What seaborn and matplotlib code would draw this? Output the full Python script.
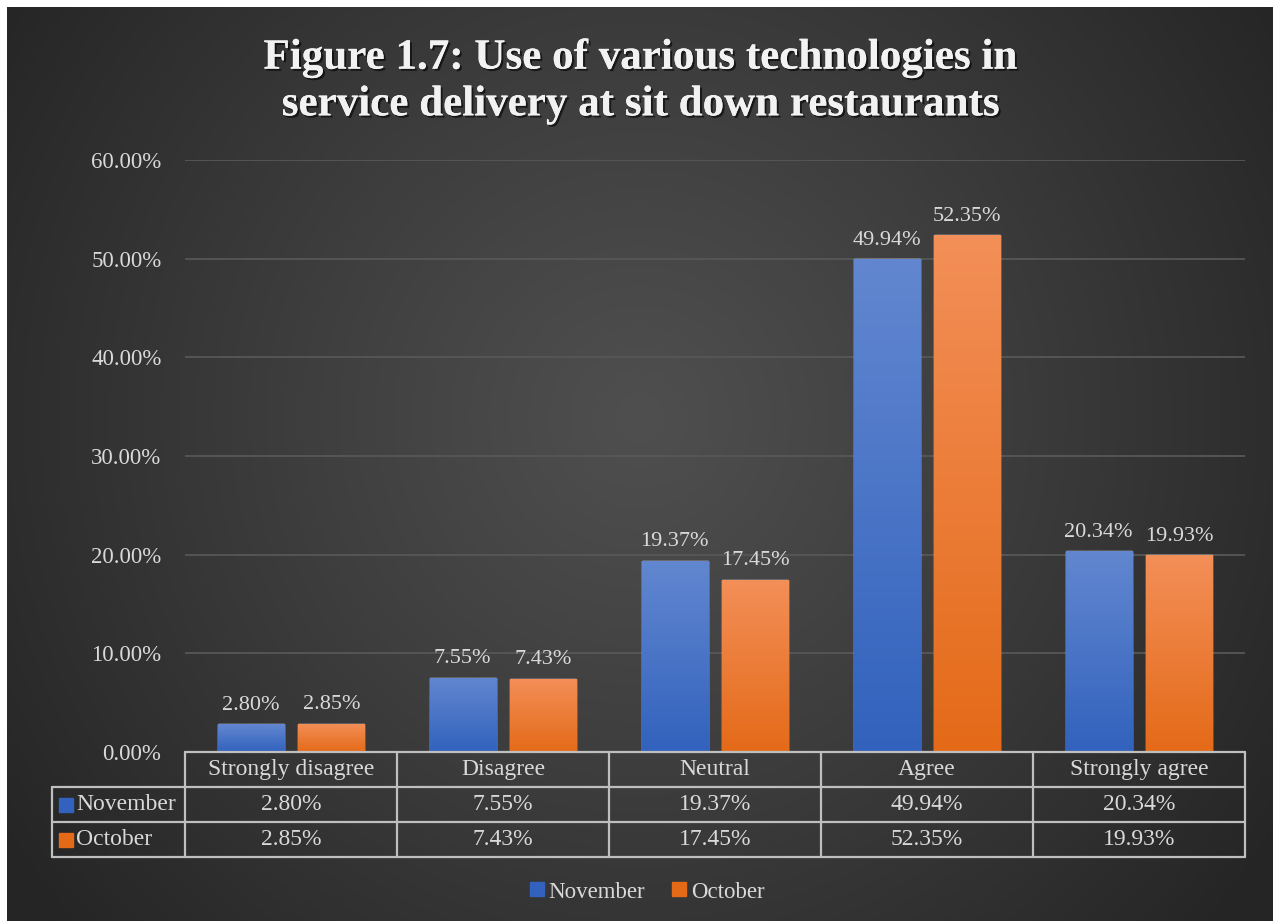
import numpy as np
import pandas as pd
import matplotlib
matplotlib.use("Agg")
import matplotlib.pyplot as plt
import seaborn as sns
from matplotlib import patheffects as pe
from matplotlib.lines import Line2D
from matplotlib.colors import LinearSegmentedColormap, to_rgb
import matplotlib.transforms as mtransforms

# ---------------- data ----------------
categories = ["Strongly disagree", "Disagree", "Neutral", "Agree", "Strongly agree"]
series_names = ["November", "October"]
november = [2.80, 7.55, 19.37, 49.94, 20.34]
october = [2.85, 7.43, 17.45, 52.35, 19.93]
y_ticks = [0, 10, 20, 30, 40, 50, 60]
title = "Figure 1.7: Use of various technologies in\nservice delivery at sit down restaurants"

df = pd.DataFrame({
    "Response": categories * 2,
    "Month": [series_names[0]] * len(categories) + [series_names[1]] * len(categories),
    "Share": november + october,
})

# ---------------- style ----------------
sns.set_theme(style="dark")
plt.rcParams['font.family'] = ['Liberation Serif', 'DejaVu Serif']

W, H = 1273, 921
fig = plt.figure(figsize=(W / 100, H / 100), dpi=100)
fig.patch.set_facecolor('white')

TXT = '#d9d9d9'
LINE = '#bfbfbf'
blue_top, blue_bot = '#6287d0', '#3262bd'
orange_top, orange_bot = '#f38f58', '#e46a18'

# background radial gradient
bg = fig.add_axes([7 / W, 0, 1 - 7 / W, 1 - 7 / H], zorder=-10)
yy, xx = np.mgrid[0:1:400j, 0:1:560j]
r = np.sqrt(((xx - 0.5) * 1.4) ** 2 + ((yy - 0.55) * 1.0) ** 2)
t = np.clip(r / 0.85, 0, 1) ** 1.1
c_in = np.array(to_rgb('#4f4f4f'))
c_out = np.array(to_rgb('#252525'))
img = c_in[None, None, :] * (1 - t[..., None]) + c_out[None, None, :] * t[..., None]
bg.imshow(img, origin='lower', extent=[0, 1, 0, 1], aspect='auto')
bg.set_axis_off()

# main axes
ax = fig.add_axes([185 / W, (H - 752) / H, 1060 / W, 592 / H])
ax.patch.set_alpha(0)

sns.barplot(data=df, x="Response", y="Share", hue="Month",
            palette=[blue_bot, orange_bot], width=0.76, gap=0.18,
            saturation=1, ax=ax, legend=False, zorder=3)

cmaps = [LinearSegmentedColormap.from_list('b', [blue_bot, blue_top]),
         LinearSegmentedColormap.from_list('o', [orange_bot, orange_top])]
grad = np.linspace(0, 1, 256).reshape(-1, 1)
series_vals = [november, october]
for k, cont in enumerate(ax.containers):
    for p in cont.patches:
        bb = p.get_bbox()
        im = ax.imshow(grad, origin='lower', extent=[bb.x0, bb.x1, bb.y0, bb.y1], cmap=cmaps[k],
                       aspect='auto', zorder=3.5, interpolation='bilinear')
        im.set_clip_path(p)
    ax.bar_label(cont, labels=[f"{v:.2f}%" for v in series_vals[k]], padding=7,
                 color=TXT, fontsize=16, zorder=5)

ax.set_xlim(-0.5, len(categories) - 0.5)
ax.set_ylim(0, 60)
ax.set_yticks(y_ticks)
ax.set_yticklabels([f"{v:.2f}%" for v in y_ticks])
ax.tick_params(axis='y', length=0, pad=17, labelsize=16.5, labelcolor=TXT)
ax.set_xticks(range(len(categories)))
ax.set_xticklabels([])
ax.tick_params(axis='x', length=0)
ax.set_xlabel('')
ax.set_ylabel('')
ax.yaxis.grid(True, color='#575757', lw=1.3)
ax.xaxis.grid(False)
ax.set_axisbelow(True)
for s in ax.spines.values():
    s.set_visible(False)

# ---------------- data table ----------------
trans = mtransforms.blended_transform_factory(ax.transData, ax.transAxes)
h = 35 / 592
n = len(categories)
xl = -0.5 - (185 - 52) / 212
lkw = dict(color=LINE, lw=1.6, transform=trans, clip_on=False, zorder=6)
ax.plot([-0.5, n - 0.5], [0, 0], **lkw)
for j in (1, 2, 3):
    ax.plot([xl, n - 0.5], [-j * h, -j * h], **lkw)
ax.plot([xl, xl], [-h, -3 * h], **lkw)
for k in range(n + 1):
    ax.plot([k - 0.5, k - 0.5], [0, -3 * h], **lkw)

tkw = dict(transform=trans, ha='center', va='center', color=TXT, fontsize=17, clip_on=False)
for i, c in enumerate(categories):
    ax.text(i, -0.5 * h, c, **tkw)
    ax.text(i, -1.5 * h, f"{november[i]:.2f}%", **tkw)
    ax.text(i, -2.5 * h, f"{october[i]:.2f}%", **tkw)

sq_x = -0.5 + (66.5 - 185) / 212
tx_x = -0.5 + (76 - 185) / 212
for j, (name, col) in enumerate(zip(series_names, [blue_bot, orange_bot])):
    yc = -(1.5 + j) * h
    ax.plot([sq_x], [yc], marker='s', ls='', color=col, markersize=9.5,
            transform=trans, clip_on=False, zorder=7)
    ax.text(tx_x, yc, name, transform=trans, ha='left', va='center',
            color=TXT, fontsize=17, clip_on=False)

# ---------------- legend ----------------
handles = [Line2D([], [], marker='s', ls='', color=c, markersize=9.5)
           for c in [blue_bot, orange_bot]]
leg = fig.legend(handles=handles, labels=series_names, loc='center',
                 bbox_to_anchor=(645 / W, 1 - 892 / H), ncol=2, frameon=False,
                 fontsize=16.5, handletextpad=0.0, columnspacing=1.0,
                 handlelength=1.0, labelcolor=TXT)

# ---------------- title ----------------
fig.text(640 / W, 1 - 82 / H, title, ha='center', va='center', fontsize=31,
         fontweight='bold', color='#f2f2f2', linespacing=1.3,
         path_effects=[pe.withSimplePatchShadow(offset=(1.5, -1.5), shadow_rgbFace='black', alpha=0.6),
                       pe.Normal()])

fig.savefig('out.png', dpi=100)
